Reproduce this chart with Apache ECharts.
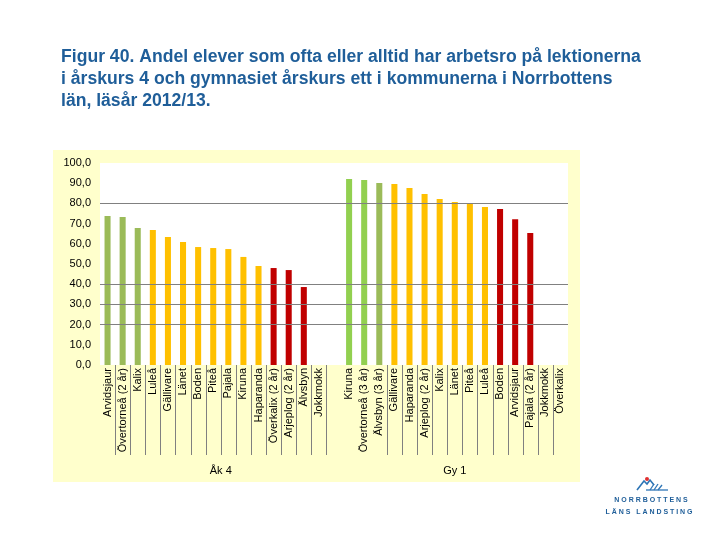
<!DOCTYPE html>
<html>
<head>
<meta charset="utf-8">
<script src="https://cdn.jsdelivr.net/npm/echarts@6/dist/echarts.min.js"></script>
<style>
html,body{margin:0;padding:0;background:#fff;}
#c{width:720px;height:540px;}
</style>
</head>
<body>
<div id="c"></div>
<script>
// ---- data ----
var titleLines = [
  'Figur 40. Andel elever som ofta eller alltid har arbetsro på lektionerna',
  'i årskurs 4 och gymnasiet årskurs ett i kommunerna i Norrbottens',
  'län, läsår 2012/13.'
];
var catsAk4 = ['Arvidsjaur','Övertorneå (2 år)','Kalix','Luleå','Gällivare','Länet','Boden','Piteå','Pajala','Kiruna','Haparanda','Överkalix (2 år)','Arjeplog (2 år)','Älvsbyn','Jokkmokk'];
var valsAk4 = [73.8, 73.3, 67.8, 66.8, 63.4, 60.9, 58.4, 57.9, 57.4, 53.5, 49.0, 48.0, 47.0, 38.6, null];
var tierAk4 = ['olive','olive','olive','orange','orange','orange','orange','orange','orange','orange','orange','red','red','red','none'];
var catsGy1 = ['Kiruna','Övertorneå (3 år)','Älvsbyn (3 år)','Gällivare','Haparanda','Arjeplog (2 år)','Kalix','Länet','Piteå','Luleå','Boden','Arvidsjaur','Pajala (2 år)','Jokkmokk','Överkalix'];
var valsGy1 = [92.1, 91.6, 90.1, 89.6, 87.6, 84.7, 82.2, 80.7, 79.7, 78.2, 77.2, 72.2, 65.3, null, null];
var tierGy1 = ['green','green','olive','orange','orange','orange','orange','orange','orange','orange','red','red','red','none','none'];
var groupNames = ['Åk 4', 'Gy 1'];
var yTicks = [0, 10, 20, 30, 40, 50, 60, 70, 80, 90, 100];
var gridValues = [20, 30, 40, 80];
var logoLines = ['N O R R B O T T E N S', 'L Ä N S   L A N D S T I N G'];

// ---- styling ----
var tierColor = {olive:'#9BBB59', green:'#92D050', orange:'#FFC000', red:'#C00000', none:'#ffffff'};
var titleColor = '#1F5E99';
var FONT = '"Liberation Sans", Arial, sans-serif';

var categories = catsAk4.concat(['']).concat(catsGy1);
var values = valsAk4.concat([null]).concat(valsGy1);
var tiers = tierAk4.concat(['none']).concat(tierGy1);
var nA = catsAk4.length;

var seriesData = values.map(function(v, i){
  return {value: v, itemStyle: {color: tierColor[tiers[i]]}};
});

var chart = echarts.init(document.getElementById('c'), null, {renderer:'canvas'});

var graphics = [
  {type:'rect', z:-10, shape:{x:53, y:150, width:527, height:332}, style:{fill:'#FFFFCC'}}
];
titleLines.forEach(function(t, i){
  graphics.push({type:'text', left:61, top:48 + i*22,
    style:{text:t, fill:titleColor, font:'bold 17.6px ' + FONT}});
});
// logo
var logoBlue = '#2E75B6';
graphics.push({type:'polyline', shape:{points:[[637,490],[644,481],[647,484],[650,480],[654,485]]}, style:{stroke:logoBlue, lineWidth:1.6, fill:null}});
graphics.push({type:'polyline', shape:{points:[[650,490],[654,484]]}, style:{stroke:logoBlue, lineWidth:1.3}});
graphics.push({type:'polyline', shape:{points:[[654,490],[658,484]]}, style:{stroke:logoBlue, lineWidth:1.3}});
graphics.push({type:'polyline', shape:{points:[[658,490],[662,485]]}, style:{stroke:logoBlue, lineWidth:1.3}});
graphics.push({type:'polyline', shape:{points:[[646,490],[668,490]]}, style:{stroke:logoBlue, lineWidth:1.3}});
graphics.push({type:'circle', shape:{cx:647, cy:479, r:2}, style:{fill:'#E03030'}});
graphics.push({type:'text', x:651, y:500, style:{text:logoLines[0], fill:'#1F5E99', align:'center', verticalAlign:'middle', font:'bold 7px ' + FONT}});
graphics.push({type:'text', x:649, y:512, style:{text:logoLines[1], fill:'#1F5E99', align:'center', verticalAlign:'middle', font:'bold 7px ' + FONT}});

var option = {
  animation: false,
  backgroundColor: '#ffffff',
  textStyle: {fontFamily: FONT},
  graphic: graphics,
  grid: {left:100, top:163, width:468, height:202, show:true, backgroundColor:'#ffffff', borderWidth:0},
  xAxis: {
    type:'category',
    data: categories,
    boundaryGap: true,
    axisLine: {show:false},
    axisTick: {show:false},
    axisLabel: {
      interval:0, rotate:90, margin:3, fontSize:11, color:'#000', fontFamily:FONT
    },
    splitLine: {show:false}
  },
  yAxis: {
    type:'value', min:yTicks[0], max:yTicks[yTicks.length-1], interval:10,
    axisLine:{show:false}, axisTick:{show:false},
    splitLine:{show:false},
    axisLabel:{
      margin:9, fontSize:11, color:'#000', fontFamily:FONT,
      formatter:function(v){ return v.toFixed(1).replace('.', ','); }
    }
  },
  series: [{
    type:'bar',
    data: seriesData,
    barWidth:'40%',
    markLine: {
      silent:true, symbol:'none', label:{show:false},
      lineStyle:{color:'#808080', width:1, type:'solid'},
      data: gridValues.map(function(v){ return {yAxis:v}; })
    },
    z: 3
  }]
};
chart.setOption(option);

// category separators (between labels) and group labels, positioned from the axis scale
var y0 = chart.convertToPixel({yAxisIndex:0}, 0);
function px(i){ return chart.convertToPixel({xAxisIndex:0}, i); }
function showSep(i){ // separator on the left boundary of category i
  return (i >= 1 && i <= nA) || (i >= nA + 4 && i <= categories.length - 1);
}
for (var i = 1; i < categories.length; i++) {
  if (!showSep(i)) continue;
  var xb = Math.round((px(i-1) + px(i)) / 2) + 0.5;
  graphics.push({type:'line', shape:{x1:xb, y1:y0, x2:xb, y2:y0 + 90}, style:{stroke:'#808080', lineWidth:1}});
}
graphics.push({type:'text', x:(px(0)+px(nA))/2, y:465, style:{text:groupNames[0], fill:'#000', font:'11px ' + FONT, align:'center'}});
graphics.push({type:'text', x:(px(nA+1)+px(categories.length-1))/2, y:465, style:{text:groupNames[1], fill:'#000', font:'11px ' + FONT, align:'center'}});
chart.setOption({graphic: graphics});
</script>
</body>
</html>
